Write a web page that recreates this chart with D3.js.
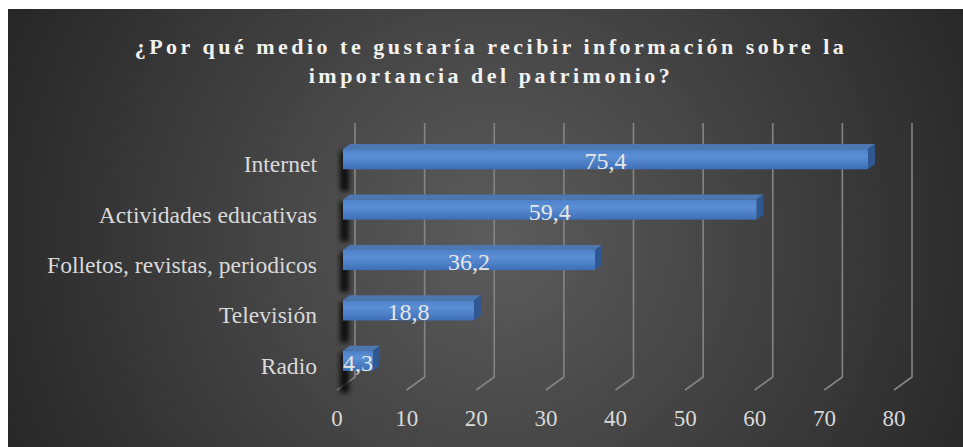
<!DOCTYPE html>
<html>
<head>
<meta charset="utf-8">
<script src="https://cdn.jsdelivr.net/npm/d3@7"></script>
<style>
  html, body { margin: 0; padding: 0; background: #ffffff; }
  #chart { width: 963px; height: 447px; }
  svg { display: block; }
  svg text { font-family: 'Liberation Serif', 'Times New Roman', serif; }
</style>
</head>
<body>
<div id="chart"></div>
<script>
const titleLines = ['¿Por qué medio te gustaría recibir información sobre la', 'importancia del patrimonio?'];
const categories = ['Internet', 'Actividades educativas', 'Folletos, revistas, periodicos', 'Televisión', 'Radio'];
const values = [75.4, 59.4, 36.2, 18.8, 4.3];
const valueLabels = ['75,4', '59,4', '36,2', '18,8', '4,3'];
const ticks = [0, 10, 20, 30, 40, 50, 60, 70, 80];

const W = 963, H = 447;
const svg = d3.select('#chart').append('svg')
  .attr('width', W).attr('height', H);

const defs = svg.append('defs');
const bg = defs.append('radialGradient').attr('id', 'bg')
  .attr('gradientUnits', 'userSpaceOnUse')
  .attr('cx', 495).attr('cy', 240).attr('r', 560);
bg.append('stop').attr('offset', '0%').attr('stop-color', '#5c5c5c');
bg.append('stop').attr('offset', '100%').attr('stop-color', '#242424');

const front = defs.append('linearGradient').attr('id', 'front')
  .attr('x1', 0).attr('y1', 0).attr('x2', 0).attr('y2', 1);
front.append('stop').attr('offset', '0%').attr('stop-color', '#4c80c8');
front.append('stop').attr('offset', '35%').attr('stop-color', '#5b8fd5');
front.append('stop').attr('offset', '100%').attr('stop-color', '#3d6fb6');

const blur = defs.append('filter').attr('id', 'shadow')
  .attr('x', '-100%').attr('y', '-50%').attr('width', '300%').attr('height', '200%');
blur.append('feGaussianBlur').attr('stdDeviation', 2.5);

// chart area
svg.append('rect')
  .attr('x', 8).attr('y', 9).attr('width', W - 8).attr('height', H - 9)
  .attr('fill', 'url(#bg)');

// title
svg.append('text')
  .attr('x', 491).attr('y', 54)
  .attr('text-anchor', 'middle')
  .attr('fill', '#f2f2f2')
  .attr('font-weight', 'bold')
  .attr('font-size', 22)
  .attr('letter-spacing', 3.5)
  .selectAll('tspan')
  .data(titleLines)
  .join('tspan')
  .attr('x', 491)
  .attr('dy', (d, i) => i === 0 ? 0 : 29)
  .text(d => d);

// 3d geometry
const x = d3.scaleLinear().domain([0, 80]).range([355, 912]); // back wall
const floorDx = -18, floorDy = 13;
const barShift = -12;          // bar front face offset from wall
const depthDx = 7, depthDy = -5;
const wallTop = 123, wallBottom = 377;

const y = d3.scaleBand()
  .domain(categories)
  .range([134, 386])
  .paddingInner(0.6)
  .paddingOuter(0.3);

// gridlines
const grid = svg.append('g')
  .attr('stroke', '#858585')
  .attr('stroke-width', 1.6)
  .attr('fill', 'none');
grid.selectAll('path')
  .data(ticks)
  .join('path')
  .attr('d', d => `M${x(d)},${wallTop}V${wallBottom}l${floorDx},${floorDy}`);

// tick labels
svg.append('g')
  .selectAll('text')
  .data(ticks)
  .join('text')
  .attr('x', d => x(d) + floorDx)
  .attr('y', 426)
  .attr('text-anchor', 'middle')
  .attr('fill', '#d9d9d9')
  .attr('font-size', 23)
  .text(d => d);

// category labels
svg.append('g')
  .selectAll('text')
  .data(categories)
  .join('text')
  .attr('x', 317)
  .attr('y', d => y(d) + y.bandwidth() / 2 + 13)
  .attr('text-anchor', 'end')
  .attr('fill', '#d9d9d9')
  .attr('font-size', 23.6)
  .text(d => d);

const rows = categories.map((c, i) => ({ cat: c, value: values[i], label: valueLabels[i] }));

// shadows on the back wall
svg.append('g')
  .selectAll('rect')
  .data(rows)
  .join('rect')
  .attr('x', x(0) + barShift - 3)
  .attr('y', d => y(d.cat) + 2)
  .attr('width', 9)
  .attr('height', y.bandwidth() + 20)
  .attr('fill', '#000')
  .attr('opacity', 0.8)
  .attr('filter', 'url(#shadow)');

// bars
const bars = svg.append('g')
  .selectAll('g')
  .data(rows)
  .join('g');

const x0 = x(0) + barShift;
const bw = y.bandwidth();

bars.append('path') // top face
  .attr('d', d => {
    const x1 = x(d.value) + barShift, t = y(d.cat);
    return `M${x0},${t}L${x0 + depthDx},${t + depthDy}L${x1 + depthDx},${t + depthDy}L${x1},${t}Z`;
  })
  .attr('fill', '#4d77b1');

bars.append('path') // side face
  .attr('d', d => {
    const x1 = x(d.value) + barShift, t = y(d.cat);
    return `M${x1},${t}L${x1 + depthDx},${t + depthDy}L${x1 + depthDx},${t + depthDy + bw}L${x1},${t + bw}Z`;
  })
  .attr('fill', '#2f5791');

bars.append('rect') // front face
  .attr('x', x0)
  .attr('y', d => y(d.cat))
  .attr('width', d => x(d.value) - x(0))
  .attr('height', bw)
  .attr('fill', 'url(#front)');

// value labels
bars.append('text')
  .attr('x', d => (x0 + x(d.value) + barShift) / 2)
  .attr('y', d => y(d.cat) + bw)
  .attr('text-anchor', 'middle')
  .attr('fill', '#e6e6e6')
  .attr('font-size', 24)
  .text(d => d.label);
</script>
</body>
</html>
